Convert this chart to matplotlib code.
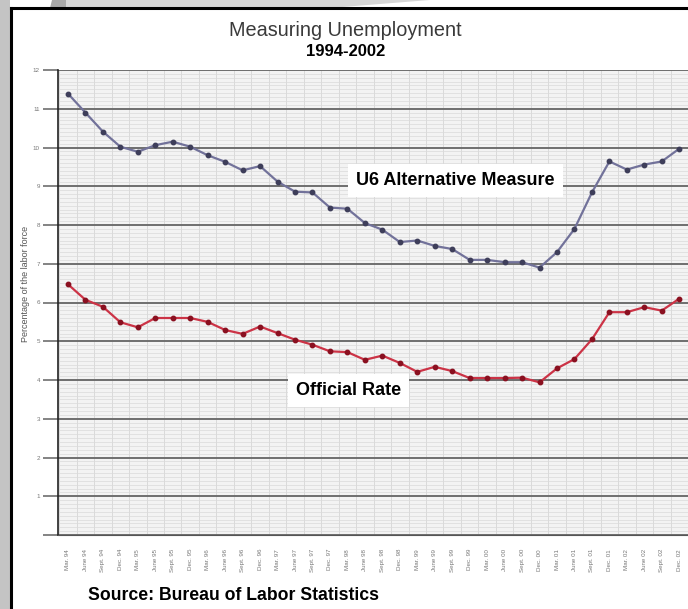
import numpy as np
import matplotlib.pyplot as plt
from matplotlib.patches import Polygon
from matplotlib.lines import Line2D

plt.rcParams['font.family'] = ['Liberation Sans', 'DejaVu Sans']

# quarterly points, Mar 1994 .. Dec 2002
months = ['Mar.', 'June', 'Sept.', 'Dec.']
years = ['94', '95', '96', '97', '98', '99', '00', '01', '02']
quarter_labels = [m + ' ' + y for y in years for m in months]

u6 = [11.39, 10.90, 10.41, 10.02, 9.89, 10.06, 10.15, 10.02, 9.80, 9.63,
      9.41, 9.52, 9.12, 8.86, 8.84, 8.45, 8.42, 8.05, 7.88, 7.56,
      7.60, 7.46, 7.38, 7.10, 7.10, 7.04, 7.04, 6.90, 7.30, 7.90,
      8.84, 9.64, 9.43, 9.56, 9.64, 9.97]

official = [6.47, 6.07, 5.89, 5.49, 5.36, 5.60, 5.60, 5.60, 5.50, 5.29,
            5.19, 5.38, 5.21, 5.04, 4.91, 4.74, 4.72, 4.52, 4.63, 4.44,
            4.21, 4.34, 4.23, 4.05, 4.05, 4.05, 4.06, 3.94, 4.30, 4.54,
            5.05, 5.75, 5.75, 5.88, 5.79, 6.10]

W, H = 688, 609
fig = plt.figure(figsize=(W / 100, H / 100), dpi=100)
fig.patch.set_facecolor('white')

# slide decoration behind the pasted chart
deco = [
    ([(0, 0), (10, 0), (10, H), (0, H)], '#c4c4c4'),
    ([(52, 0), (66, 0), (66, 8), (50, 8)], '#a8a8a8'),
    ([(66, 0), (430, 0), (330, 8), (66, 8)], '#d6d6d6'),
]
for pts, col in deco:
    fig.add_artist(Polygon([(px / W, 1 - py / H) for px, py in pts], closed=True,
                           transform=fig.transFigure, fc=col, ec='none', zorder=0))
# black frame (left + top)
fig.add_artist(Line2D([11 / W, 11 / W], [0, 1 - 8 / H], transform=fig.transFigure,
                      color='black', lw=2.2))
fig.add_artist(Line2D([11 / W, 1], [1 - 8 / H, 1 - 8 / H], transform=fig.transFigure,
                      color='black', lw=2.2))

ax = fig.add_axes([58 / W, (H - 535) / H, (W - 58) / W, (535 - 70) / H])
ax.set_facecolor('#f3f3f3')

x = np.arange(len(u6))
ax.set_xlim(-0.57, 35.06)
ax.set_ylim(0, 12)

# grid
ax.set_yticks(np.arange(0, 13, 1))
ax.set_yticks(np.arange(0, 12, 0.1), minor=True)
ax.set_xticks(x)
ax.set_xticks(np.arange(-0.5, 36, 0.5), minor=True)
ax.grid(which='minor', axis='y', color='#dadada', lw=0.5)
ax.grid(which='minor', axis='x', color='#d6d6d6', lw=0.6)
ax.grid(which='major', axis='y', color='#6e6e6e', lw=1.4)
ax.set_axisbelow(True)

ax.plot(x, u6, color='#72729a', lw=1.6, marker='o', ms=3.2,
        mfc='#3e3e5a', mec='#3e3e5a', zorder=3)
ax.plot(x, official, color='#cc3346', lw=1.6, marker='o', ms=3.2,
        mfc='#8a1020', mec='#8a1020', zorder=3)

ax.set_yticklabels(['' if v == 0 else str(v) for v in range(13)])
ax.tick_params(axis='y', which='major', length=11, width=1.2, color='#6e6e6e',
               labelsize=4.5, labelcolor='#777777', pad=2)
ax.tick_params(axis='y', which='minor', length=0)
ax.set_xticklabels(quarter_labels, rotation=90)
ax.tick_params(axis='x', which='major', length=0, labelsize=4.5,
               labelcolor='#777777', pad=10)
ax.tick_params(axis='x', which='minor', length=0)

for s in ['top', 'right']:
    ax.spines[s].set_visible(False)
ax.spines['left'].set_color('#222222')
ax.spines['left'].set_linewidth(1.2)
ax.spines['bottom'].set_color('#555555')

ax.set_ylabel('Percentage of the labor force', fontsize=6.5, color='#555555')
ax.yaxis.set_label_coords(-0.045, 0.54)

ax.text(22.2, 9.14, 'U6 Alternative Measure', fontsize=13, fontweight='bold',
        ha='center', va='center', zorder=5,
        bbox=dict(boxstyle='square,pad=0.45', fc='white', ec='none'))
ax.text(16.05, 3.72, 'Official Rate', fontsize=13, fontweight='bold',
        ha='center', va='center', zorder=5,
        bbox=dict(boxstyle='square,pad=0.45', fc='white', ec='none'))

fig.text(345 / W, 1 - 30 / H, 'Measuring Unemployment', fontsize=14.3,
         color='#3a3a3a', ha='center', va='center')
fig.text(346 / W, 1 - 52 / H, '1994-2002', fontsize=12, fontweight='bold',
         ha='center', va='center')
fig.text(88 / W, 1 - 596 / H, 'Source: Bureau of Labor Statistics', fontsize=12.7,
         fontweight='bold', ha='left', va='center')

fig.savefig('out.png', dpi=100)
